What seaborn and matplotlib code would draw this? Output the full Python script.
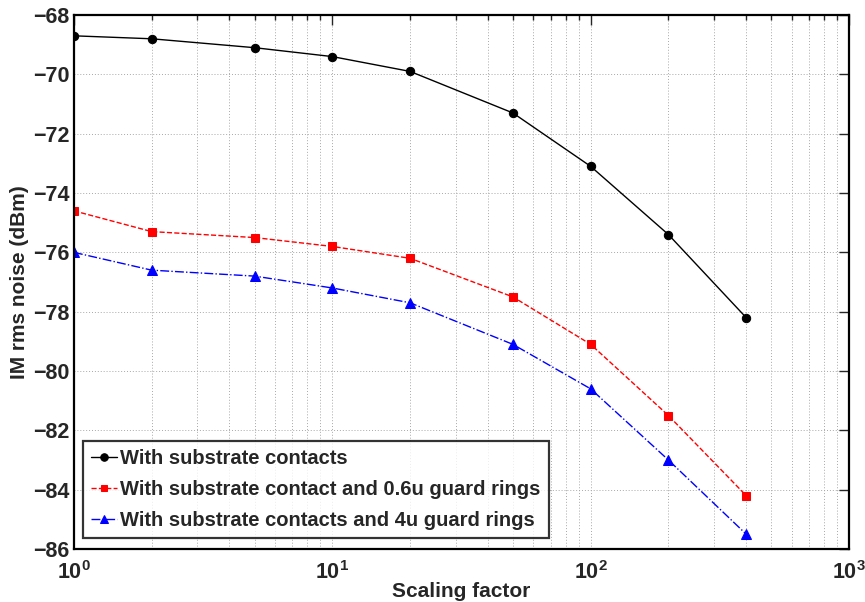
import matplotlib
matplotlib.use("Agg")
import matplotlib.pyplot as plt
import seaborn as sns
import pandas as pd
from matplotlib.ticker import LogLocator, NullFormatter

sns.set_style("white")
plt.rcParams['font.family'] = ['Liberation Sans', 'DejaVu Sans']
plt.rcParams['font.weight'] = 'bold'
plt.rcParams['mathtext.default'] = 'bf'

scaling = [1, 2, 5, 10, 20, 50, 100, 200, 400]
contacts = [-68.7, -68.8, -69.1, -69.4, -69.9, -71.3, -73.1, -75.4, -78.2]
guard06 = [-74.6, -75.3, -75.5, -75.8, -76.2, -77.5, -79.1, -81.5, -84.2]
guard4 = [-76.0, -76.6, -76.8, -77.2, -77.7, -79.1, -80.6, -83.0, -85.5]

labels = ["With substrate contacts",
          "With substrate contact and 0.6u guard rings",
          "With substrate contacts and 4u guard rings"]
colors = ["black", "red", "blue"]
markers = ["o", "s", "^"]
styles = ["-", "--", "-."]
msizes = [6, 5.5, 6.5]

fig = plt.figure(figsize=(8.65, 6.02), dpi=100)
ax = fig.add_axes([0.0855, 0.088, 0.896, 0.887])

for vals, lab, c, m, ls, ms in zip([contacts, guard06, guard4], labels, colors, markers, styles, msizes):
    df = pd.DataFrame({"x": scaling, "y": vals})
    sns.lineplot(data=df, x="x", y="y", ax=ax, color=c, marker=m, linestyle=ls,
                 markersize=ms, markeredgecolor=c, linewidth=1.0, label=lab)

ax.set_xscale("log")
ax.set_xlim(1, 1000)
ax.set_ylim(-86, -68)
ax.set_yticks(list(range(-86, -67, 2)))
ax.set_yticklabels([f"\u2212{abs(v)}" for v in range(-86, -67, 2)])
ax.xaxis.set_major_locator(LogLocator(base=10, numticks=10))
ax.xaxis.set_minor_locator(LogLocator(base=10, subs=range(2, 10), numticks=20))
ax.xaxis.set_minor_formatter(NullFormatter())

ax.grid(True, which="major", linestyle=(0, (1, 2)), color="#a8a8a8", linewidth=0.7)
ax.grid(True, which="minor", axis="x", linestyle=(0, (1, 2)), color="#a8a8a8", linewidth=0.7)

ax.tick_params(which="both", direction="in", top=True, right=True, labelsize=15.5, width=1.0)
ax.tick_params(which="major", length=7)
ax.tick_params(which="minor", length=3.5)
ax.tick_params(axis="x", which="major", pad=9)
ax.tick_params(axis="y", which="major", pad=3)
for lbl in ax.get_xticklabels() + ax.get_yticklabels():
    lbl.set_fontweight("bold")
for s in ax.spines.values():
    s.set_linewidth(1.6)
    s.set_color("black")

ax.set_xlabel("Scaling factor", fontsize=15, fontweight="bold", labelpad=-2)
ax.set_ylabel("IM rms noise (dBm)", fontsize=15, fontweight="bold", labelpad=3)

leg = ax.legend(loc="lower left", bbox_to_anchor=(0.004, 0.01), fontsize=14.5, frameon=True,
                fancybox=False, edgecolor="black", handlelength=1.3, handletextpad=0.15,
                borderpad=0.4, labelspacing=0.58, borderaxespad=0.3, markerscale=0.9)
leg.get_frame().set_linewidth(1.6)
for t in leg.get_texts():
    t.set_fontweight("bold")

fig.savefig("out.png", dpi=100)
